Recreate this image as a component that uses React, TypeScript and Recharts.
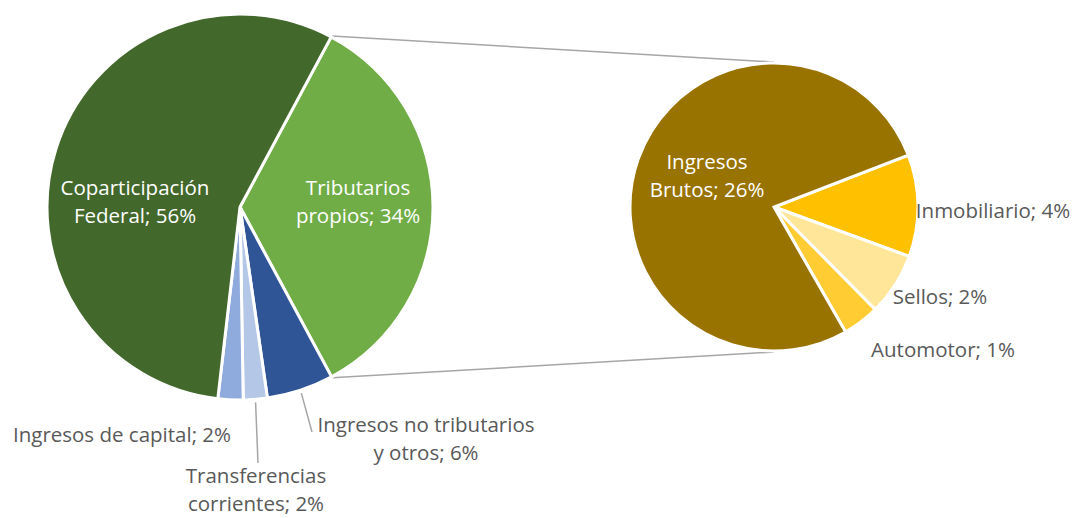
import { PieChart, Pie, Cell, Customized } from 'recharts';

// pie of pie: total revenue on the left, breakdown of "Tributarios propios" on the right
const mainNames = [
  'Tributarios propios',
  'Ingresos no tributarios y otros',
  'Transferencias corrientes',
  'Ingresos de capital',
  'Coparticipación Federal',
];
const mainValues = [34.3, 5.6, 2.0, 2.1, 56.0];
const mainColors = ['#70AD47', '#2F5597', '#B4C7E7', '#8FAADC', '#43682B'];

const ownNames = ['Inmobiliario', 'Sellos', 'Automotor', 'Ingresos Brutos'];
const ownValues = [3.9, 2.4, 1.4, 26.4];
const ownColors = ['#FFC000', '#FFE699', '#FFCD33', '#997300'];

const mainData = mainNames.map((name, i) => ({ name, value: mainValues[i] }));
const ownData = ownNames.map((name, i) => ({ name, value: ownValues[i] }));
const grandTotal = mainValues.reduce((a, b) => a + b, 0);

const W = 1075;
const H = 518;
const LEFT = { cx: 240, cy: 207, r: 193, start: 61.8 };
const RIGHT = { cx: 774, cy: 207, r: 144, start: 21.1 };
const RAD = Math.PI / 180;
const FONT = '"Open Sans", sans-serif';

// words before the line break
const wrapAfter: Record<string, number> = {
  'Coparticipación Federal': 1,
  'Tributarios propios': 1,
  'Ingresos no tributarios y otros': 3,
  'Transferencias corrientes': 1,
  'Ingresos Brutos': 1,
};

// label placement relative to the pie centre
const place: Record<string, { dx: number; dy: number; inside?: boolean; leader?: [number, number] }> = {
  'Tributarios propios': { dx: 118, dy: -6, inside: true },
  'Coparticipación Federal': { dx: -105, dy: -6, inside: true },
  'Ingresos no tributarios y otros': { dx: 186, dy: 231, leader: [72, 225] },
  'Transferencias corrientes': { dx: 16, dy: 282, leader: [18, 256] },
  'Ingresos de capital': { dx: -118, dy: 227 },
  'Ingresos Brutos': { dx: -67, dy: -32, inside: true },
  Inmobiliario: { dx: 219, dy: 3 },
  Sellos: { dx: 166, dy: 89 },
  Automotor: { dx: 169, dy: 142 },
};

function makeLabel(center: { cx: number; cy: number; r: number }) {
  return (props: any) => {
    const { name, value, midAngle } = props;
    const p = place[name];
    const pct = Math.round((value / grandTotal) * 100);
    const words = name.split(' ');
    const n = wrapAfter[name];
    const lines = n
      ? [words.slice(0, n).join(' '), `${words.slice(n).join(' ')}; ${pct}%`]
      : [`${name}; ${pct}%`];
    const x = center.cx + p.dx;
    const y = center.cy + p.dy;
    const lh = 27.5;
    const top = y - ((lines.length - 1) * lh) / 2;
    const sx = center.cx + (center.r + 3) * Math.cos(-midAngle * RAD);
    const sy = center.cy + (center.r + 3) * Math.sin(-midAngle * RAD);
    return (
      <g>
        {p.leader && (
          <line
            x1={sx}
            y1={sy}
            x2={center.cx + p.leader[0]}
            y2={center.cy + p.leader[1]}
            stroke="#A6A6A6"
            strokeWidth={1.5}
          />
        )}
        <text
          x={x}
          y={top}
          textAnchor="middle"
          dominantBaseline="central"
          fill={p.inside ? '#FFFFFF' : '#595959'}
          fontFamily={FONT}
          fontSize={20.5}
        >
          {lines.map((t, i) => (
            <tspan key={i} x={x} y={top + i * lh}>
              {t}
            </tspan>
          ))}
        </text>
      </g>
    );
  };
}

// connector lines between the split slice and the secondary pie
function Connectors() {
  const span = (mainValues[0] / grandTotal) * 360;
  const a1 = LEFT.start * RAD;
  const a2 = (LEFT.start - span) * RAD;
  const R = LEFT.r + 1;
  const p1 = [LEFT.cx + R * Math.cos(a1), LEFT.cy - R * Math.sin(a1)];
  const p2 = [LEFT.cx + R * Math.cos(a2), LEFT.cy - R * Math.sin(a2)];
  return (
    <g>
      <line x1={p1[0]} y1={p1[1]} x2={RIGHT.cx} y2={RIGHT.cy - RIGHT.r - 1} stroke="#A6A6A6" strokeWidth={1.5} />
      <line x1={p2[0]} y1={p2[1]} x2={RIGHT.cx} y2={RIGHT.cy + RIGHT.r + 1} stroke="#A6A6A6" strokeWidth={1.5} />
    </g>
  );
}

export default function App() {
  return (
    <div style={{ position: 'absolute', left: 0, top: 0, background: '#fff' }}>
      <PieChart width={W} height={H} margin={{ top: 0, right: 0, bottom: 0, left: 0 }}>
        <Customized component={Connectors} />
        <Pie
          data={mainData}
          dataKey="value"
          nameKey="name"
          cx={LEFT.cx}
          cy={LEFT.cy}
          outerRadius={LEFT.r}
          startAngle={LEFT.start}
          endAngle={LEFT.start - 360}
          stroke="#FFFFFF"
          strokeWidth={3}
          label={makeLabel(LEFT)}
          labelLine={false}
          isAnimationActive={false}
        >
          {mainData.map((d, i) => (
            <Cell key={d.name} fill={mainColors[i]} />
          ))}
        </Pie>
        <Pie
          data={ownData}
          dataKey="value"
          nameKey="name"
          cx={RIGHT.cx}
          cy={RIGHT.cy}
          outerRadius={RIGHT.r}
          startAngle={RIGHT.start}
          endAngle={RIGHT.start - 360}
          stroke="#FFFFFF"
          strokeWidth={3}
          label={makeLabel(RIGHT)}
          labelLine={false}
          isAnimationActive={false}
        >
          {ownData.map((d, i) => (
            <Cell key={d.name} fill={ownColors[i]} />
          ))}
        </Pie>
      </PieChart>
    </div>
  );
}
